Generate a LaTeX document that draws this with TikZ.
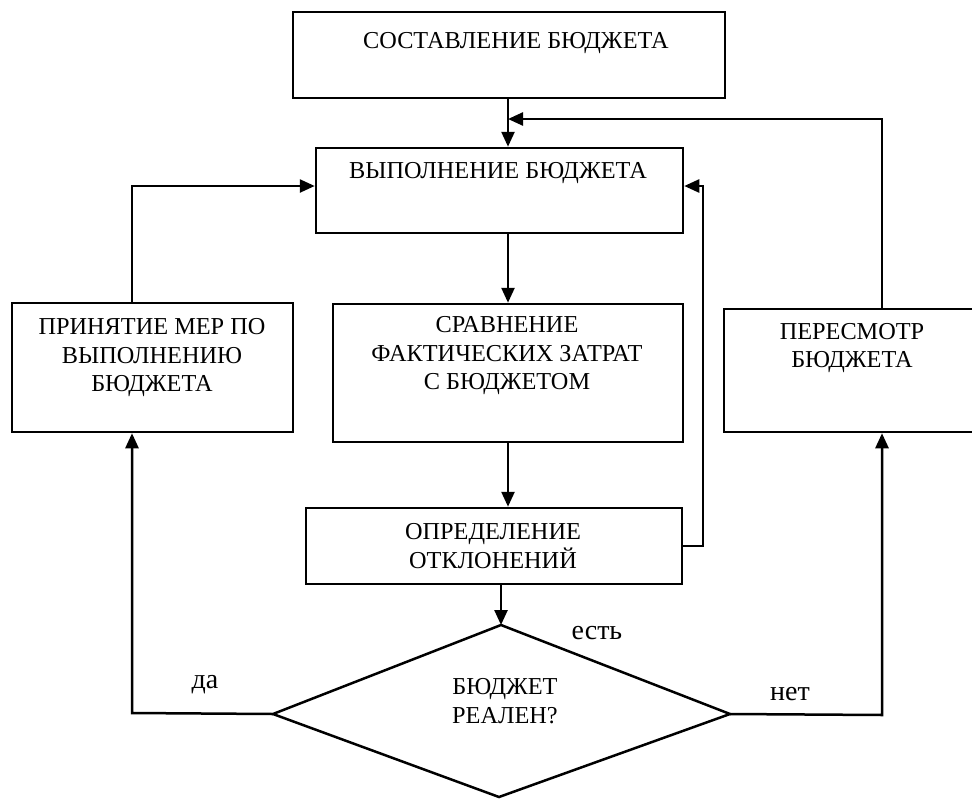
\documentclass[tikz,border=0pt]{standalone}
\usepackage{fontspec}
\setmainfont{Liberation Serif}
\usetikzlibrary{arrows.meta}
\begin{document}
\begin{tikzpicture}[x=1pt,y=-1pt,
  line width=2.5pt,
  box/.style={draw, rectangle, inner sep=0pt},
  txt/.style={align=center, font=\fontsize{24.3}{28.5}\selectfont, inner sep=0pt},
  lbl/.style={font=\fontsize{28}{32}\selectfont, inner sep=0pt},
  arr/.style={-{Triangle[length=15pt,width=13pt]}}]
\useasboundingbox (0,0) rectangle (972,798);
% boxes
\node[box, minimum width=432, minimum height=86] (top) at (509,55) {};
\node[box, minimum width=367, minimum height=85] (vyp) at (499.5,190.5) {};
\node[box, minimum width=350, minimum height=138] (sravn) at (508,373) {};
\node[box, minimum width=376, minimum height=76] (opred) at (494,546) {};
\node[box, minimum width=281, minimum height=129] (prin) at (152.5,367.5) {};
\node[box, minimum width=250, minimum height=123] (peresm) at (849,370.5) {};
% diamond
\coordinate (dT) at (501,625);
\coordinate (dL) at (273,714);
\coordinate (dR) at (730,714);
\coordinate (dB) at (499,797);
\draw (dT) -- (dR) -- (dB) -- (dL) -- cycle;
% texts
\node[txt] (ttop) at (516,43) {СОСТАВЛЕНИЕ БЮДЖЕТА};
\node[txt] (tvyp) at (498,173) {ВЫПОЛНЕНИЕ БЮДЖЕТА};
\node[txt] (tsravn) at (507,356) {СРАВНЕНИЕ\\ФАКТИЧЕСКИХ ЗАТРАТ\\С БЮДЖЕТОМ};
\node[txt] (topred) at (493,546) {ОПРЕДЕЛЕНИЕ\\ОТКЛОНЕНИЙ};
\node[txt] (tprin) at (152,358) {ПРИНЯТИЕ МЕР ПО\\ВЫПОЛНЕНИЮ\\БЮДЖЕТА};
\node[txt] (tperesm) at (852,348) {ПЕРЕСМОТР\\БЮДЖЕТА};
\node[txt] (tdiam) at (505,701) {БЮДЖЕТ\\РЕАЛЕН?};
\node[lbl] (lest) at (597,633) {есть};
\node[lbl] (lda) at (205,685) {да};
\node[lbl] (lnet) at (790,694) {нет};
% helper coordinates
\coordinate (c1) at (882,119);
\coordinate (c2) at (508,119);
\coordinate (c3) at (132,186);
\coordinate (c4) at (703,186);
\coordinate (c5) at (703,546);
\coordinate (c6) at (132,713);
\coordinate (c7) at (882,715);
% connectors
\draw[arr] (c2 |- top.south) -- (c2 |- vyp.north);
\draw[arr] (c1 |- peresm.north) -- (c1) -- (c2);
\draw[arr] (c3 |- prin.north) -- (c3) -- (c3 -| vyp.west);
\draw[arr] (opred.east |- c5) -- (c5) -- (c4) -- (c4 -| vyp.east);
\draw[arr] (c2 |- vyp.south) -- (c2 |- sravn.north);
\draw[arr] (c2 |- sravn.south) -- (c2 |- opred.north);
\draw[arr] (dT |- opred.south) -- (dT);
\draw[arr] (dL) -- (c6) -- (c6 |- prin.south);
\draw[arr] (dR) -- (c7) -- (c7 |- peresm.south);
\end{tikzpicture}
\end{document}
